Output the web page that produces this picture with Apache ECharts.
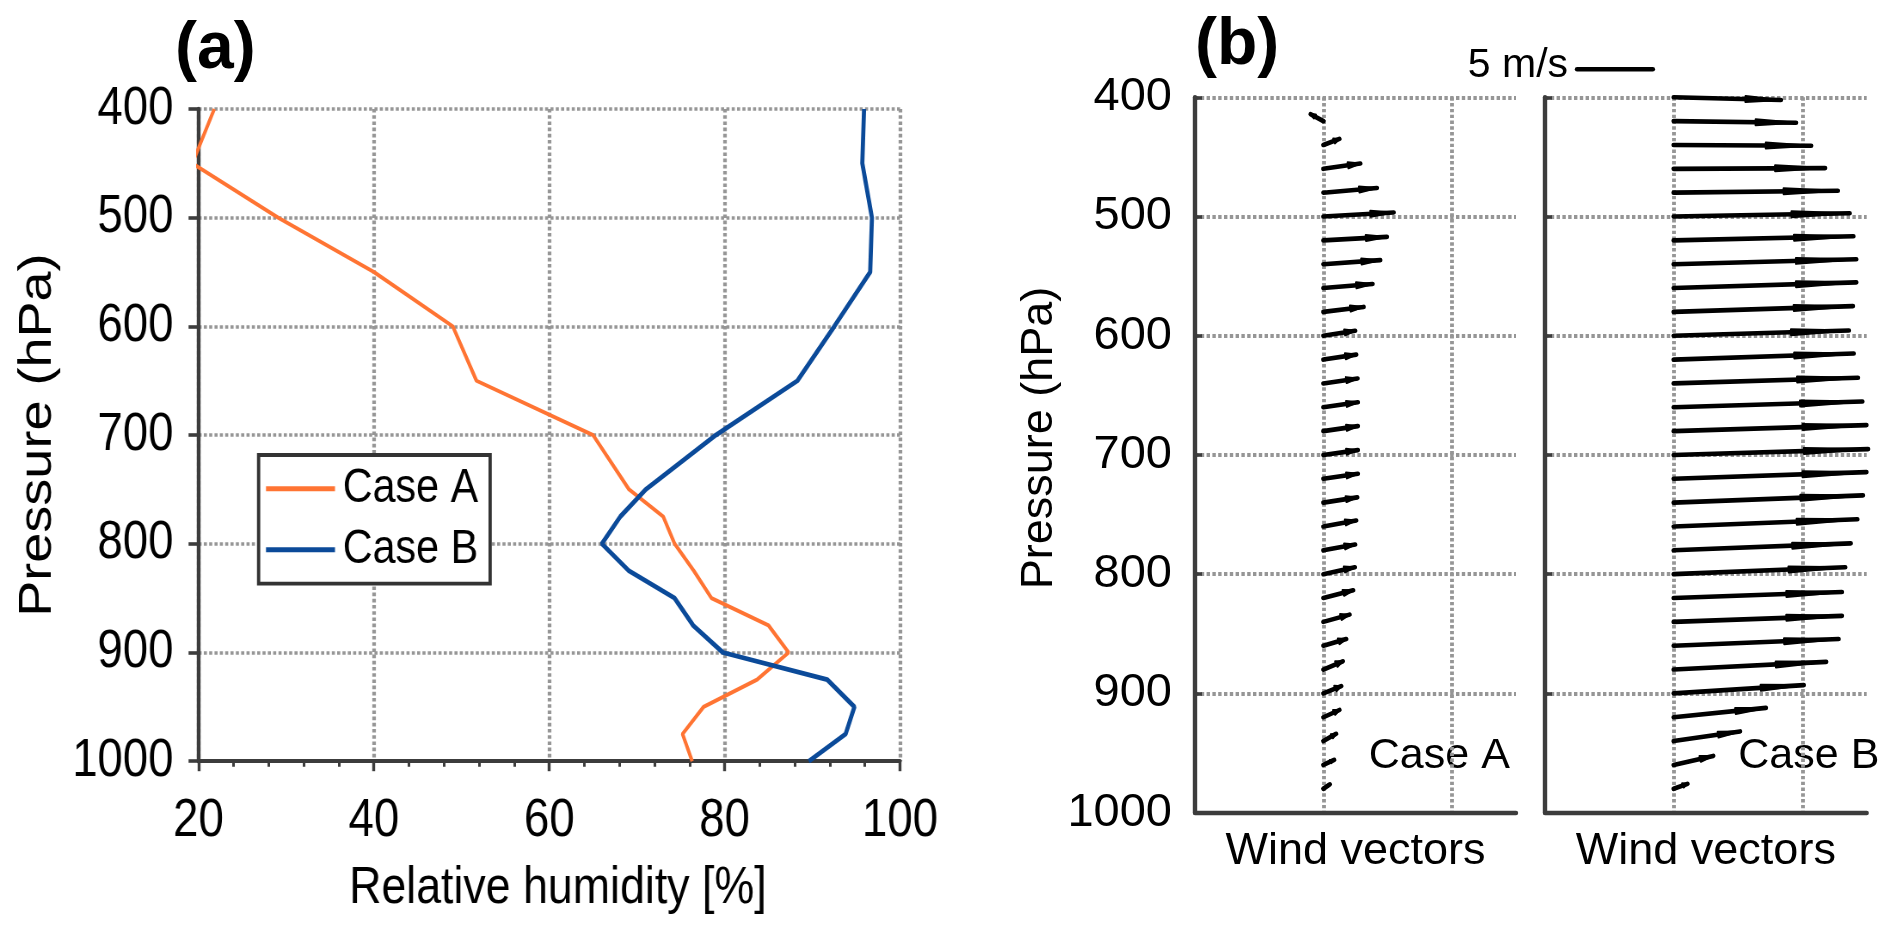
<!DOCTYPE html>
<html><head><meta charset="utf-8">
<script src="https://cdn.jsdelivr.net/npm/echarts@6/dist/echarts.min.js"></script>
<style>
html,body{margin:0;padding:0;background:#fff;width:1892px;height:939px;overflow:hidden}
#chartA{position:absolute;left:0;top:0;width:1170px;height:939px;transform:scaleX(0.86);transform-origin:0 0}
#chartB{position:absolute;left:0;top:0;width:1892px;height:939px}
</style></head><body>
<div id="chartA"></div><div id="chartB"></div>
<script>
// ---------- Panel (a): relative humidity profiles ----------
const rhLevels = [400,450,500,550,600,650,700,750,775,800,825,850,875,900,925,950,975,1000];
const rhCaseA  = [21.8,19.3,29.1,40.0,49.0,51.7,65.0,69.1,73.0,74.3,76.5,78.5,85.0,87.3,83.7,77.6,75.2,76.3];
const rhCaseB  = [95.9,95.7,96.8,96.6,92.5,88.3,79.0,71.0,68.1,66.0,69.1,74.3,76.4,79.8,91.7,94.8,93.8,89.6];
const rhTickValues = [20,40,60,80,100];
const pressureTicks = [400,500,600,700,800,900,1000];

// ---------- Panel (b): wind vectors (m/s) ----------
const windLevels = [400,420,440,460,480,500,520,540,560,580,600,620,640,660,680,700,720,740,760,780,800,820,840,860,880,900,920,940,960,980];
const uCaseA = [null,-0.84,1.06,2.44,3.54,4.65,4.20,3.76,3.25,2.66,2.10,2.17,2.26,2.28,2.28,2.28,2.28,2.24,2.17,2.10,2.08,1.97,1.73,1.51,1.28,1.18,1.06,0.84,0.71,0.42];
const vCaseA = [null,0.46,0.40,0.35,0.31,0.27,0.23,0.27,0.27,0.33,0.33,0.33,0.33,0.33,0.33,0.32,0.33,0.35,0.40,0.38,0.46,0.51,0.48,0.44,0.55,0.48,0.48,0.48,0.33,0.29];
const uCaseB = [7.08,8.08,9.08,10.00,10.84,11.62,11.87,12.06,12.06,11.84,11.57,11.89,12.17,12.46,12.73,12.84,12.73,12.50,12.13,11.69,11.33,11.11,11.11,10.89,10.07,8.59,6.09,4.38,2.61,0.91];
const vCaseB = [-0.18,-0.11,-0.05,0.05,0.13,0.22,0.27,0.33,0.38,0.38,0.35,0.40,0.38,0.38,0.40,0.39,0.44,0.48,0.48,0.46,0.46,0.40,0.40,0.44,0.51,0.55,0.62,0.64,0.60,0.33];
const refSpeed = 5; // m/s reference arrow
const caseNames = ['Case A','Case B'];

const FONT = '"Liberation Sans", Arial, Helvetica, sans-serif';
const AXIS = '#3c3c3c';
const GRID = '#969696';
const ORANGE = '#FF7433';
const BLUE = '#0B4A99';
const V_HPA_PER_MS = 12.62;   // vertical drawing scale of the vectors
const HEAD_FRAC = 0.33;
const plainNum = v => String(v);

// ---------- Chart A ----------
const chartA = echarts.init(document.getElementById('chartA'), null, {renderer:'canvas'});
chartA.setOption({
  animation:false,
  textStyle:{fontFamily:FONT},
  grid:{left:230.8, top:109, width:815.7, height:652.2, containLabel:false},
  legend:{
    left:300.7, top:455, orient:'vertical', icon:'rect', itemWidth:80.2, itemHeight:5, itemGap:13,
    padding:[9.8,14,9.9,8.6], borderColor:'#333', borderWidth:3.8, backgroundColor:'#fff', borderRadius:0,
    selectedMode:false,
    textStyle:{fontSize:48, color:'#000', lineHeight:47, padding:[0,0,0,4], fontFamily:FONT},
    data:caseNames
  },
  xAxis:{
    type:'value', min:rhTickValues[0], max:rhTickValues[rhTickValues.length-1], interval:rhTickValues[1]-rhTickValues[0],
    name:'Relative humidity [%]', nameLocation:'middle', nameGap:101.5,
    nameTextStyle:{fontSize:52, color:'#000', padding:[0,0,0,20], fontFamily:FONT},
    axisLine:{show:true, onZero:false, lineStyle:{color:AXIS, width:4}},
    axisTick:{show:true, inside:false, length:10, lineStyle:{color:AXIS, width:3.4}},
    minorTick:{show:true, splitNumber:5, length:5.5, lineStyle:{color:AXIS, width:3}},
    axisLabel:{fontSize:53, color:'#000', margin:34, fontFamily:FONT, formatter:plainNum},
    splitLine:{show:true, lineStyle:{color:GRID, width:4.2, type:[3.6,2.6]}}
  },
  yAxis:{
    type:'value', inverse:true, min:pressureTicks[0], max:pressureTicks[pressureTicks.length-1], interval:pressureTicks[1]-pressureTicks[0],
    name:'Pressure (hPa)', nameLocation:'middle', nameGap:160,
    nameTextStyle:{fontSize:54, color:'#000', fontFamily:FONT},
    axisLine:{show:true, onZero:false, lineStyle:{color:AXIS, width:4.4}},
    axisTick:{show:true, inside:false, length:11.6, lineStyle:{color:AXIS, width:3.6}},
    axisLabel:{fontSize:53, color:'#000', margin:29, fontFamily:FONT, formatter:plainNum},
    splitLine:{show:true, lineStyle:{color:GRID, width:3.6, type:[3.6,2.6]}}
  },
  series:[
    {name:caseNames[0], type:'line', symbol:'none', clip:true, color:ORANGE,
     lineStyle:{color:ORANGE, width:4}, data:rhLevels.map((p,i)=>[rhCaseA[i], p])},
    {name:caseNames[1], type:'line', symbol:'none', clip:true, color:BLUE,
     lineStyle:{color:BLUE, width:4.8}, data:rhLevels.map((p,i)=>[rhCaseB[i], p])}
  ]
});

// ---------- Chart B ----------
function vectorItem(params, api){
  const p0 = api.value(0), u = api.value(1), v = api.value(2);
  const a = api.coord([0, p0]);
  const b = api.coord([u, p0 - v*V_HPA_PER_MS]);
  const dx = b[0]-a[0], dy = b[1]-a[1], len = Math.hypot(dx,dy);
  if (!len) return null;
  const nx = -dy/len, ny = dx/len;
  const bx = b[0]-dx*HEAD_FRAC, by = b[1]-dy*HEAD_FRAC;
  const hw = Math.min(3, len*0.15);
  return {type:'group', children:[
    {type:'line', shape:{x1:a[0], y1:a[1], x2:b[0], y2:b[1]}, style:{stroke:'#000', lineWidth:4.6, lineCap:'round'}},
    {type:'polygon', shape:{points:[[bx+nx*hw, by+ny*hw],[b[0],b[1]],[bx-nx*hw, by-ny*hw]]},
     style:{fill:'#000', stroke:'#000', lineWidth:2, lineJoin:'round'}}
  ]};
}
function vecData(u, v){
  const out = [];
  windLevels.forEach((p,i)=>{ if (u[i] != null) out.push([p, u[i], v[i]]); });
  return out;
}
function refItem(params, api){
  const p = api.value(0), u0 = api.value(1), spd = api.value(2);
  const a = api.coord([u0, p]);
  const b = api.coord([u0 + spd, p]);
  return {type:'group', children:[
    {type:'line', shape:{x1:a[0], y1:a[1], x2:b[0], y2:b[1]}, style:{stroke:'#000', lineWidth:4.6, lineCap:'round'}},
    {type:'text', x:a[0]-9, y:a[1]-3.8, style:{text:refSpeed + ' m/s', fontSize:41, fontFamily:FONT, fill:'#000', align:'right', verticalAlign:'middle'}}
  ]};
}
const splitB = {color:GRID, width:3.8, type:[3.4,2.4]};
const chartB = echarts.init(document.getElementById('chartB'), null, {renderer:'canvas'});
chartB.setOption({
  animation:false,
  textStyle:{fontFamily:FONT},
  grid:[{left:1195, top:97.3, width:321, height:715.3},{left:1545, top:97.3, width:321.7, height:715.3}],
  xAxis:[0,1].map(i=>({
    gridIndex:i, type:'value', min:-8.5, max:12.75, interval:8.5,
    name:'Wind vectors', nameLocation:'middle', nameGap:16.8,
    nameTextStyle:{fontSize:45, color:'#000', fontFamily:FONT},
    axisLine:{show:true, onZero:false, lineStyle:{color:AXIS, width:4.4}},
    axisTick:{show:false}, axisLabel:{show:false},
    splitLine:{show:true, showMinLine:false, showMaxLine:false, lineStyle:splitB}
  })),
  yAxis:[0,1].map(i=>({
    gridIndex:i, type:'value', inverse:true, min:pressureTicks[0], max:pressureTicks[pressureTicks.length-1], interval:pressureTicks[1]-pressureTicks[0],
    name: i===0 ? 'Pressure (hPa)' : '', nameLocation:'middle', nameGap:132.6,
    nameTextStyle:{fontSize:45, color:'#000', padding:[0,0,0,34], fontFamily:FONT},
    axisLine:{show:true, onZero:false, lineStyle:{color:AXIS, width:4.4}},
    axisTick:{show:true, inside:true, length:7, lineStyle:{color:AXIS, width:3.6}},
    axisLabel:{show:i===0, fontSize:47, color:'#000', margin:23, fontFamily:FONT, formatter:plainNum},
    splitLine:{show:true, showMaxLine:false, lineStyle:splitB}
  })),
  graphic:[
    {type:'text', x:175, y:49.5, style:{text:'(a)', fontSize:66, fontWeight:'bold', fontFamily:FONT, fill:'#000', verticalAlign:'middle'}},
    {type:'text', x:1195, y:45.7, style:{text:'(b)', fontSize:66, fontWeight:'bold', fontFamily:FONT, fill:'#000', verticalAlign:'middle'}},
    {type:'text', x:1368.8, y:756.5, style:{text:caseNames[0], fontSize:43, fontFamily:FONT, fill:'#000', verticalAlign:'middle'}},
    {type:'text', x:1738.3, y:756.5, style:{text:caseNames[1], fontSize:43, fontFamily:FONT, fill:'#000', verticalAlign:'middle'}}
  ],
  series:[
    {name:caseNames[0], type:'custom', xAxisIndex:0, yAxisIndex:0, clip:false, encode:{x:1, y:0},
     renderItem:vectorItem, data:vecData(uCaseA, vCaseA)},
    {name:caseNames[1], type:'custom', xAxisIndex:1, yAxisIndex:1, clip:false, encode:{x:1, y:0},
     renderItem:vectorItem, data:vecData(uCaseB, vCaseB)},
    {name:'reference', type:'custom', xAxisIndex:1, yAxisIndex:1, clip:false, encode:{x:1, y:0},
     renderItem:refItem, data:[[376.5, -6.38, refSpeed]]}
  ]
});
</script>
</body></html>
